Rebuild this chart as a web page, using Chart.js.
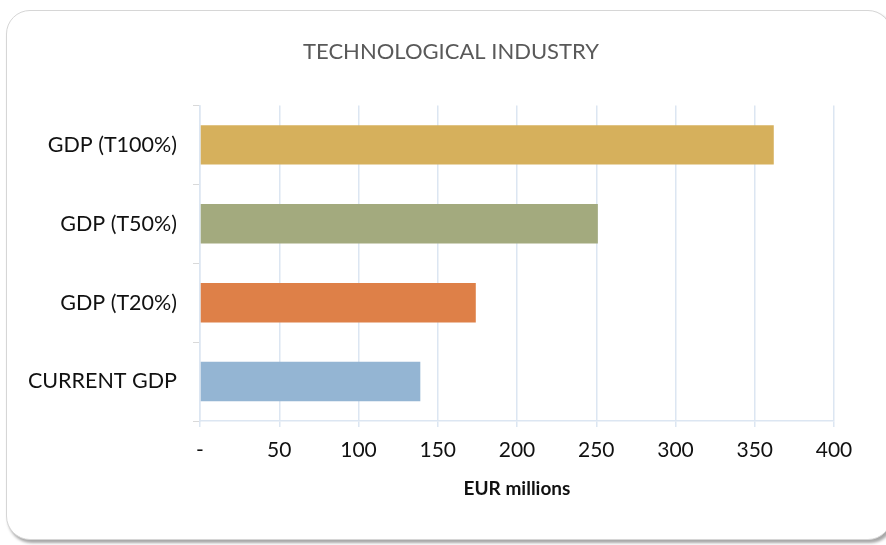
<!DOCTYPE html>
<html>
<head>
<meta charset="utf-8">
<script src="https://cdn.jsdelivr.net/npm/chart.js@4"></script>
<style>
  html, body { margin: 0; padding: 0; background: #fff; }
  #frame {
    position: absolute; left: 6px; top: 10px; width: 884px; height: 528px;
    border: 1px solid #d6d6d6; border-radius: 24px;
    box-shadow: 2px 3px 3px rgba(0,0,0,0.35);
    background: #fff;
  }
  #wrap { position: absolute; left: 0; top: 0; width: 886px; height: 545px; }
</style>
</head>
<body>
<div id="frame"></div>
<div id="wrap"><canvas id="industryChart" width="886" height="545"></canvas></div>
<script>
  var categories = ["GDP (T100%)", "GDP (T50%)", "GDP (T20%)", "CURRENT GDP"];
  var gdpValues = [362, 251, 174, 139];
  var barColors = ["#d6b05c", "#a3aa7e", "#de8048", "#94b5d3"];
  var xTickLabels = ["-", "50", "100", "150", "200", "250", "300", "350", "400"];

  var ctx = document.getElementById('industryChart').getContext('2d');
  var gridBlue = '#dce6f2';

  var chart = new Chart(ctx, {
    type: 'bar',
    data: {
      labels: categories,
      datasets: [{
        label: "GDP",
        data: gdpValues,
        backgroundColor: barColors,
        borderWidth: 0,
        categoryPercentage: 0.5,
        barPercentage: 1.0
      }]
    },
    options: {
      indexAxis: 'y',
      responsive: false,
      animation: false,
      layout: { padding: { top: 10, left: 16, right: 0, bottom: 45 } },
      plugins: {
        legend: { display: false },
        tooltip: { enabled: false },
        title: {
          display: true,
          text: "TECHNOLOGICAL INDUSTRY",
          color: '#595959',
          font: { family: 'Lato', size: 22, weight: '400' },
          padding: { top: 29, bottom: 40 }
        }
      },
      scales: {
        x: {
          min: 0,
          max: 400,
          ticks: {
            stepSize: 50,
            color: '#111',
            padding: 11,
            font: { family: 'Lato', size: 21 },
            callback: function (value, index) { return xTickLabels[index]; }
          },
          grid: { color: gridBlue, lineWidth: 1.5, tickLength: 6 },
          border: { color: gridBlue, width: 1.5 },
          title: {
            display: true,
            text: "EUR millions",
            color: '#111',
            font: { family: 'Lato', size: 19, weight: 'bold' },
            padding: { top: 3, bottom: 0 }
          },
          afterFit: function (scale) { scale.paddingRight = 52; }
        },
        y: {
          ticks: {
            color: '#111',
            padding: 16,
            font: { family: 'Lato', size: 21.5 }
          },
          grid: { offset: true, drawOnChartArea: false, tickLength: 7, color: '#d9d9d9' },
          border: { color: gridBlue, width: 1.5 },
          afterFit: function (scale) { scale.width = 184; }
        }
      }
    }
  });
</script>
</body>
</html>
